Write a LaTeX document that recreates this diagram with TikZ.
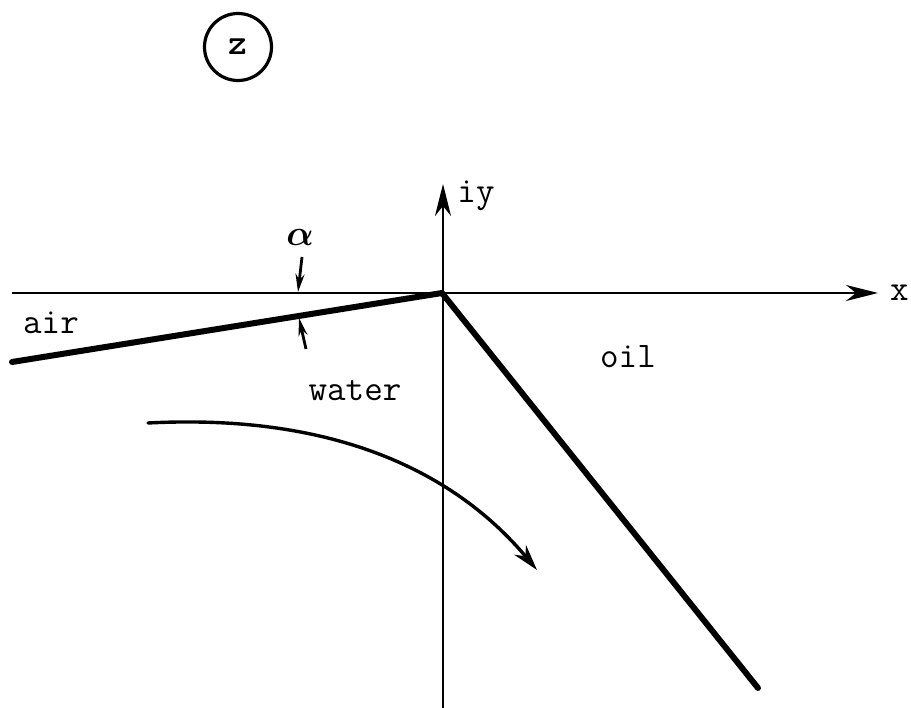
\RequirePackage{fix-cm}
\documentclass[tikz,border=0pt]{standalone}
\usepackage{amsmath}
\usepackage{tikz}
\usetikzlibrary{arrows.meta, positioning}
\tikzset{
  axis/.style  = {-{Stealth[length=32pt,width=16pt,inset=10pt]}, line width=2.6pt},
  wall/.style  = {line width=6pt, line cap=round},
  flow/.style  = {-{Stealth[length=26pt,width=15pt,inset=8pt]}, line width=3.4pt,
                  line cap=round},
  angmark/.style = {-{Stealth[length=18pt,width=9pt]}, line width=2.8pt},
  lbl/.style   = {font=\ttfamily\fontsize{36}{40}\selectfont, inner sep=0pt},
}

\begin{document}
\begin{tikzpicture}[x=1pt, y=-1pt]
  \useasboundingbox (0,0) rectangle (911,708);

  % ---- plane label ----
  \node[lbl, font=\ttfamily\bfseries\fontsize{36}{40}\selectfont,
        circle, draw, line width=3.2pt, minimum size=67pt]
        (zc) at (238,47) {z};

  % ---- axes ----
  \coordinate (O)  at (442,293);
  \coordinate (xs) at (12,293);
  \coordinate (xe) at (878,293);
  \coordinate (ys) at (443,708);
  \coordinate (ye) at (443,184);
  \draw[axis] (xs) -- (xe);
  \draw[axis] (ys) -- (ye);
  \node[lbl, right=12pt of xe] (xlbl) {x};
  \node[lbl] (iylbl) at (476,196) {iy};

  % ---- interfaces ----
  \coordinate (airend) at (12,362);
  \coordinate (oilend) at (758,688);
  \draw[wall] (airend) -- (O) -- (oilend);

  % ---- contact angle ----
  \node[font=\fontsize{36}{40}\selectfont, inner sep=0pt]
        (alpha) at (300,238) {$\boldsymbol{\alpha}$};
  \coordinate (atop)  at (302,257);
  \coordinate (atoph) at (298,292);
  \coordinate (abot)  at (306,349);
  \coordinate (aboth) at (299,318);
  \draw[angmark] (atop) -- (atoph);
  \draw[angmark] (abot) -- (aboth);

  % ---- phases ----
  \node[lbl] (air)   at (51,323)  {air};
  \node[lbl] (water) at (355,391) {water};
  \node[lbl] (oil)   at (628,357) {oil};

  % ---- flow ----
  \coordinate (fs) at (148,423);
  \coordinate (fe) at (537,570);
  \draw[flow] (fs) .. controls (360,412) and (470,490) .. (fe);

\end{tikzpicture}
\end{document}
